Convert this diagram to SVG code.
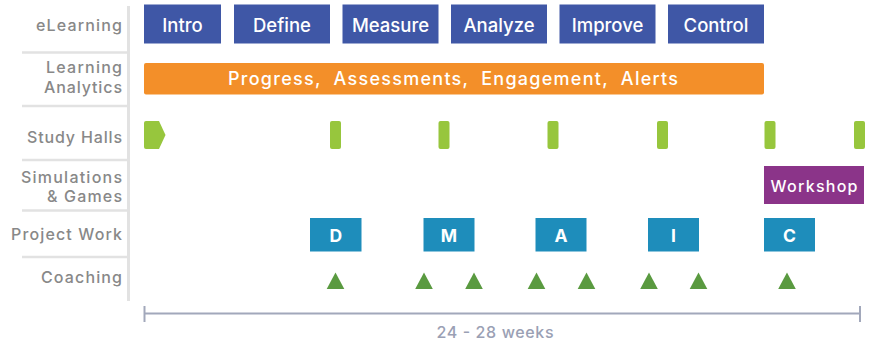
<svg xmlns="http://www.w3.org/2000/svg" width="871" height="345" viewBox="0 0 871 345">
<style>
.lbl{font-family:Inter,"Open Sans","Liberation Sans",sans-serif;font-size:16px;fill:#888888;text-anchor:end;font-weight:500}
.sep{stroke:#e2e2e2;stroke-width:2.5}
.el rect{fill:#3f57a6}
.el text{font-family:Inter,"Open Sans","Liberation Sans",sans-serif;font-size:18.5px;font-weight:500;fill:#fff;text-anchor:middle}
.sh{fill:#97c63d}
.pw rect{fill:#1e8dbb}
.pw text{font-family:Inter,"Open Sans","Liberation Sans",sans-serif;font-size:17.5px;font-weight:700;fill:#fff;text-anchor:middle}
.tri{fill:#5a9a40}
.tl{stroke:#a2a8bb;stroke-width:2;fill:none}
</style>
<g id="labels">
<line x1="128.5" y1="6" x2="128.5" y2="301" stroke="#e2e2e2" stroke-width="3"/>
<line class="sep" x1="22" y1="52.5" x2="127" y2="52.5"/>
<line class="sep" x1="22" y1="106" x2="127" y2="106"/>
<line class="sep" x1="22" y1="160" x2="127" y2="160"/>
<line class="sep" x1="22" y1="210.5" x2="127" y2="210.5"/>
<line class="sep" x1="22" y1="257" x2="127" y2="257"/>
<text class="lbl" x="122" y="31" textLength="86">eLearning</text>
<text class="lbl" x="122" y="73" textLength="76">Learning</text>
<text class="lbl" x="122" y="92.5" textLength="78">Analytics</text>
<text class="lbl" x="122" y="142.5" textLength="95">Study Halls</text>
<text class="lbl" x="122" y="182.5" textLength="101">Simulations</text>
<text class="lbl" x="122" y="201.5" textLength="75">&amp; Games</text>
<text class="lbl" x="122" y="240" textLength="111">Project Work</text>
<text class="lbl" x="122" y="282.5" textLength="81">Coaching</text>
</g>
<g id="elearning" class="el">
<g id="intro"><rect x="144" y="4.5" width="77" height="39"/><text x="182.5" y="31.5">Intro</text></g>
<g id="define"><rect x="234" y="4.5" width="96" height="39"/><text x="282" y="31.5">Define</text></g>
<g id="measure"><rect x="342.5" y="4.5" width="96" height="39"/><text x="390.5" y="31.5">Measure</text></g>
<g id="analyze"><rect x="451" y="4.5" width="96" height="39"/><text x="499" y="31.5">Analyze</text></g>
<g id="improve"><rect x="559.5" y="4.5" width="96" height="39"/><text x="607.5" y="31.5">Improve</text></g>
<g id="control"><rect x="668" y="4.5" width="96" height="39"/><text x="716" y="31.5">Control</text></g>
</g>
<g id="analytics">
<rect x="144" y="63" width="620" height="31.5" rx="2" fill="#f38f29"/>
<text x="453" y="85" font-family="Inter,'Open Sans','Liberation Sans',sans-serif" font-size="18" font-weight="500" fill="#fff" text-anchor="middle" textLength="450" xml:space="preserve">Progress,  Assessments,  Engagement,  Alerts</text>
</g>
<g id="studyhalls">
<path class="sh" d="M146,121 H159 L165.5,135 L159,149 H146 Q144,149 144,147 V123 Q144,121 146,121 Z"/>
<rect class="sh" x="330" y="121" width="11" height="28" rx="2"/>
<rect class="sh" x="438.5" y="121" width="11" height="28" rx="2"/>
<rect class="sh" x="547.5" y="121" width="11" height="28" rx="2"/>
<rect class="sh" x="657" y="121" width="11" height="28" rx="2"/>
<rect class="sh" x="764.5" y="121" width="11" height="28" rx="2"/>
<rect class="sh" x="854" y="121" width="11" height="28" rx="2"/>
</g>
<g id="workshop">
<rect x="764" y="166" width="100" height="38" fill="#8b3489"/>
<text x="814" y="191.5" font-family="Inter,'Open Sans','Liberation Sans',sans-serif" font-size="16" font-weight="500" fill="#fff" text-anchor="middle" textLength="87">Workshop</text>
</g>
<g id="projectwork" class="pw">
<g id="pw-d"><rect x="310" y="218" width="51.5" height="33.5"/><text x="335.75" y="241.5">D</text></g>
<g id="pw-m"><rect x="423.5" y="218" width="51" height="33.5"/><text x="449" y="241.5">M</text></g>
<g id="pw-a"><rect x="535.5" y="218" width="51" height="33.5"/><text x="561" y="241.5">A</text></g>
<g id="pw-i"><rect x="648" y="218" width="51" height="33.5"/><text x="673.5" y="241.5">I</text></g>
<g id="pw-c"><rect x="764" y="218" width="51" height="33.5"/><text x="789.5" y="241.5">C</text></g>
</g>
<g id="coaching">
<polygon class="tri" points="335.5,272.5 344.3,289 326.7,289"/>
<polygon class="tri" points="424,272.5 432.8,289 415.2,289"/>
<polygon class="tri" points="474,272.5 482.8,289 465.2,289"/>
<polygon class="tri" points="536.5,272.5 545.3,289 527.7,289"/>
<polygon class="tri" points="586.5,272.5 595.3,289 577.7,289"/>
<polygon class="tri" points="649,272.5 657.8,289 640.2,289"/>
<polygon class="tri" points="698.5,272.5 707.3,289 689.7,289"/>
<polygon class="tri" points="787,272.5 795.8,289 778.2,289"/>
</g>
<g id="connectors">
<line class="tl" x1="144" y1="313.5" x2="860" y2="313.5"/>
<line class="tl" x1="144.5" y1="306" x2="144.5" y2="322"/>
<line class="tl" x1="860" y1="306" x2="860" y2="322"/>
<text x="495" y="338" font-family="Inter,'Open Sans','Liberation Sans',sans-serif" font-size="16" font-weight="500" fill="#9aa0b4" text-anchor="middle" textLength="117">24 - 28 weeks</text>
</g>
</svg>
